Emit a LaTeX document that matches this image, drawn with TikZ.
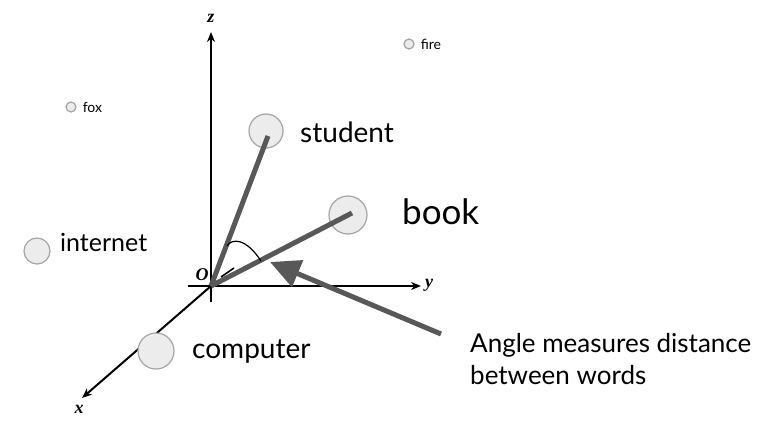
\documentclass[tikz,border=0pt]{standalone}
\usepackage{fontspec}
\setmainfont{Lato}
\newfontfamily\axisfont{Liberation Serif}
\usetikzlibrary{arrows.meta,positioning}
\definecolor{vecgray}{RGB}{88,88,88}
\definecolor{dotfill}{RGB}{236,236,236}
\definecolor{dotline}{RGB}{165,165,165}

\begin{document}
\begin{tikzpicture}[
    x=1pt, y=-1pt,
    word/.style={circle, draw=dotline, fill=dotfill, line width=1.2pt, inner sep=0pt},
    axis/.style={-{Stealth[length=10pt,width=8pt]}, line width=2pt},
    vec/.style={line width=5pt, draw=vecgray},
    lbl/.style={font=\axisfont\bfseries\itshape\fontsize{18}{18}\selectfont},
    txt/.style={anchor=west, inner sep=0pt, align=left}
]
    \useasboundingbox (0,0) rectangle (766,436);

    % axes
    \coordinate (O) at (211,286);
    \coordinate (zBot) at (211,302);
    \coordinate (zTip) at (211,32);
    \coordinate (yBot) at (188,286);
    \coordinate (yTip) at (421,286);
    \coordinate (xTip) at (82,398);
    \coordinate (xBack1) at (221,277);
    \coordinate (xBack2) at (234,268);
    \draw[axis] (zBot) -- (zTip);
    \draw[axis] (yBot) -- (yTip);
    \draw[axis] (O) -- (xTip);
    \draw[line width=1.6pt] (xBack1) -- (xBack2);
    \node[lbl] (zl) at (211,18) {z};
    \node[lbl] (yl) at (429,285) {y};
    \node[lbl] (xl) at (79,409) {x};
    \node[lbl] (ol) at (202,275) {O};

    % word vectors
    \node[word, minimum size=34pt] (student) at (266,131) {};
    \node[word, minimum size=38pt] (book) at (348,215) {};
    \draw[vec] (O) -- (268,136);
    \draw[vec] (O) -- (352,213);
    \draw[line width=1.2pt] (227,246) .. controls (232,238) and (246,238) .. (261,261);

    % other words
    \node[word, minimum size=10pt] (fire) at (409,44) {};
    \node[word, minimum size=10pt] (fox) at (71,107) {};
    \node[word, minimum size=26pt] (internet) at (37,251) {};
    \node[word, minimum size=36pt] (computer) at (156,351) {};

    \node[txt, font=\fontsize{14}{14}\selectfont, right=6pt of fire] {fire};
    \node[txt, font=\fontsize{14}{14}\selectfont, right=6pt of fox] {fox};
    \node[txt, font=\fontsize{25}{25}\selectfont] at (60,242) {internet};
    \node[txt, font=\fontsize{28}{28}\selectfont] at (300,132) {student};
    \node[txt, font=\fontsize{35}{35}\selectfont] at (402,212) {book};
    \node[txt, font=\fontsize{28}{28}\selectfont] at (192,352) {computer};

    % pointer to the angle
    \node[txt, font=\fontsize{26}{32}\selectfont] (note) at (470,359) {Angle measures distance\\between words};
    \coordinate (tail) at (441,334);
    \coordinate (head) at (270,262);
    \draw[vec, -{Triangle[length=30pt,width=28pt]}] (tail) -- (head);
\end{tikzpicture}
\end{document}
